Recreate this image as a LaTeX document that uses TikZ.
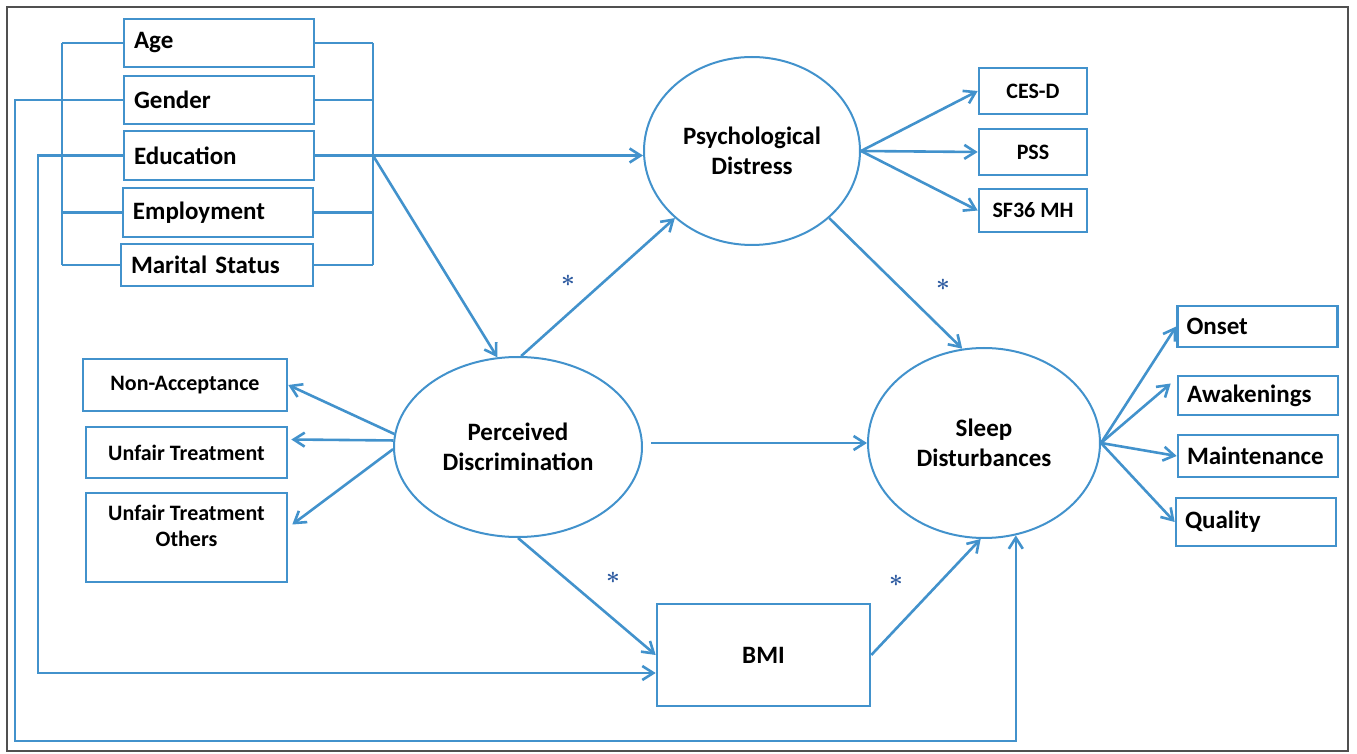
\documentclass[tikz,border=0pt]{standalone}
\usepackage{amsmath}
\usepackage{fontspec}
\setmainfont{Carlito}
\usepackage{tikz}
\usetikzlibrary{arrows.meta,shapes.geometric,positioning}

\definecolor{pathblue}{RGB}{66,146,204}
\definecolor{starblue}{RGB}{45,90,160}
\definecolor{framegray}{RGB}{80,80,80}
\newcommand{\labfont}{\fontsize{12.5}{15}\selectfont\bfseries}
\newcommand{\smfont}{\fontsize{11}{13}\selectfont\bfseries}

\begin{document}
\begin{tikzpicture}[x=0.5pt, y=-0.5pt, color=pathblue, line width=1.3pt,
  >={Straight Barb[length=5.5pt,width=7pt]},
  cov/.style={draw, text=black, font=\labfont, text width=85pt, inner xsep=5pt, align=left, minimum height=24pt},
  ind/.style={draw, text=black, font=\smfont, align=center, minimum width=54pt, minimum height=23pt},
  res/.style={draw, text=black, font=\labfont, text width=71pt, inner xsep=4.5pt, align=left, minimum height=20.5pt},
  lat/.style={ellipse, draw, line width=1pt, text=black, font=\labfont, align=center, inner sep=1pt},
  sig/.style={text=starblue, font=\fontsize{12}{12}\selectfont, inner sep=0pt}]
\useasboundingbox (0,0) rectangle (1357,754);
\draw[framegray, line width=1pt] (7,7) rectangle (1348,751);

% covariates
\node[cov] (Age) at (219,43) {Age};
\node[cov] (Gen) at (219,100) {Gender};
\node[cov, minimum height=24.5pt] (Edu) at (219,155.5) {Education};
\node[cov, minimum height=24.5pt] (Emp) at (218,212.5) {Employment};
\node[cov, minimum height=21pt, text width=86pt] (Mar) at (217,265) {Marital Status};

% latent variables
\node[lat, minimum width=108pt, minimum height=94pt] (PsyD) at (752,151) {Psychological\\Distress};
\node[lat, minimum width=124pt, minimum height=90pt] (PD) at (518,447) {Perceived\\Discrimination};
\node[lat, minimum width=116pt, minimum height=95pt] (SD) at (984,443) {Sleep\\Disturbances};
\node[draw, text=black, font=\labfont, minimum width=106.5pt, minimum height=51pt] (BMI) at (763.5,655) {BMI};

% indicators
\node[ind, minimum width=102pt, minimum height=26pt] (NA) at (185,385) {Non-Acceptance};
\node[ind, minimum width=100.5pt, minimum height=25.5pt] (UT) at (186.5,452.5) {Unfair Treatment};
\node[ind, minimum width=100.5pt, minimum height=44.5pt] (UTO) at (186.5,537.5)
  {\raisebox{13pt}{\begin{tabular}[b]{@{}c@{}}Unfair Treatment\\Others\end{tabular}}};
\node[ind] (CES) at (1033,91) {CES-D};
\node[ind] (PSS) at (1033,152) {PSS};
\node[ind, minimum height=21.5pt] (SF) at (1033,210.5) {SF36 MH};
\node[res] (On) at (1257.5,326.5) {Onset};
\node[res, minimum height=19.5pt] (Aw) at (1258,395.5) {Awakenings};
\node[res, minimum height=21pt] (Ma) at (1258,456) {Maintenance};
\node[res, minimum height=24pt] (Qu) at (1256,522) {Quality};

% significance marks
\node[sig] (s1) at (568,281) {$\boldsymbol{\ast}$};
\node[sig] (s2) at (943,285) {$\boldsymbol{\ast}$};
\node[sig] (s3) at (613,578) {$\boldsymbol{\ast}$};
\node[sig] (s4) at (896,581) {$\boldsymbol{\ast}$};

% brackets round the covariates
\coordinate (lb) at (62,0);
\coordinate (rb) at (373,0);
\coordinate (gl) at (15,741);
\coordinate (el) at (38,673);
\draw (Age.west -| lb) -- (Mar.west -| lb);
\draw (Age.east -| rb) -- (Mar.east -| rb);
\draw (Age.west) -- (Age.west -| lb);
\draw (Emp.west) -- (Emp.west -| lb);
\draw (Mar.west) -- (Mar.west -| lb);
\draw (Age.east) -- (Age.east -| rb);
\draw (Gen.east) -- (Gen.east -| rb);
\draw (Emp.east) -- (Emp.east -| rb);
\draw (Mar.east) -- (Mar.east -| rb);

% covariate paths
\draw[->] (Edu.east) -- (Edu.east -| PsyD.west);
\draw[->] (Edu.east -| rb) -- (PD.103);
\draw[->] (Gen.west) -| (gl) -| (SD.289);
\draw[->] (Edu.west) -| (el) -- (el -| BMI.west);

% structural paths
\draw[->] (PD.88) -- (PsyD.221.5);
\draw[->] (PsyD.319) -- (SD.103);
\draw[->, shorten <=4pt] (PD.east |- SD.west) -- (SD.west);
\draw[->] (PD.south) -- (BMI.west);
\draw[->] (BMI.east) -- (SD.268);

% measurement paths
\draw[->] (PD.174) -- (NA.east);
\draw[->] (PD.177) -- ([xshift=1.5pt,yshift=6.5pt]UT.east);
\draw[->] (PD.181.5) -- ([xshift=2pt,yshift=6.5pt]UTO.east);
\draw[->] (PsyD.east) -- (CES.west);
\draw[->] (PsyD.east) -- (PSS.west);
\draw[->] (PsyD.east) -- (SF.west);
\draw[->] (SD.east) -- (On.west);
\draw[->] (SD.east) -- ([xshift=-3pt,yshift=6pt]Aw.west);
\draw[->] (SD.east) -- (Ma.west);
\draw[->] (SD.east) -- (Qu.west);
\end{tikzpicture}
\end{document}
